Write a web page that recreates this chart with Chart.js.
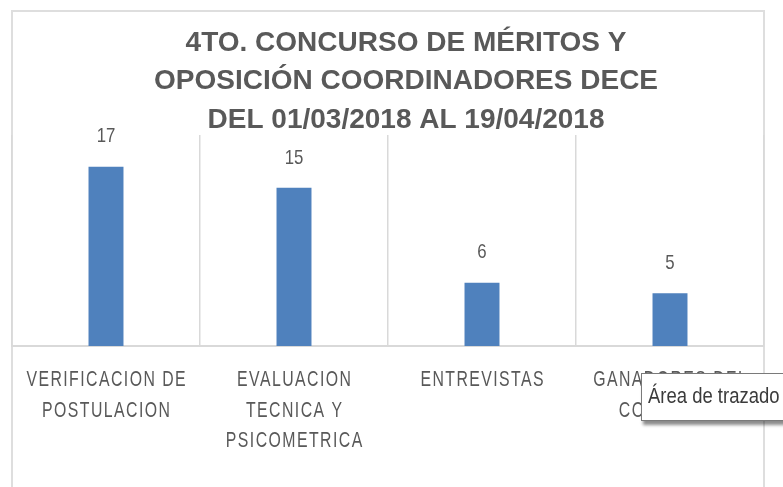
<!DOCTYPE html>
<html lang="es">
<head>
<meta charset="utf-8">
<title>4to. Concurso de méritos y oposición coordinadores DECE</title>
<script src="https://cdn.jsdelivr.net/npm/chart.js@4.4.1/dist/chart.umd.min.js"></script>
<style>
    html, body { margin: 0; padding: 0; background: #fff; }
    #wrap { position: relative; width: 783px; height: 487px; overflow: hidden; }
    #tip {
        position: absolute; left: 641px; top: 373px; width: 170px; height: 48px;
        box-sizing: border-box; border: 1px solid #7a7a7a; background: #fff;
        box-shadow: 2px 4px 3px rgba(0, 0, 0, 0.45);
        font: 22px "Liberation Sans", Arial, sans-serif; color: #3b3b3b;
        line-height: 44px; padding-left: 6px; white-space: nowrap;
    }
    #tip span { display: inline-block; transform: scaleX(0.84); transform-origin: 0 50%; }
</style>
</head>
<body>
<div id="wrap">
    <canvas id="chart"></canvas>
    <div id="tip"><span>Área de trazado</span></div>
</div>
<script>
// values
const titleLines = ["4TO. CONCURSO DE MÉRITOS Y", "OPOSICIÓN COORDINADORES DECE", "DEL 01/03/2018 AL 19/04/2018"];
const categories = [
    ["VERIFICACION DE", "POSTULACION"],
    ["EVALUACION", "TECNICA Y", "PSICOMETRICA"],
    ["ENTREVISTAS"],
    ["GANADORES DEL", "CONCURSO"],
];
const counts = [17, 15, 6, 5];
const yMin = 0;
const yMax = 20;

const baseFont = '"Liberation Sans", Arial, sans-serif';
const textGray = "#595959";
const lineGray = "#d9d9d9";

// draw text squeezed sideways, centred on x (no narrow face is installed here)
function narrowText(ctx, text, x, y, squeeze, spacing) {
    ctx.save();
    ctx.translate(x, y);
    ctx.scale(squeeze, 1);
    if (spacing) {
        ctx.letterSpacing = spacing + "px";
        ctx.translate(spacing / 2, 0); // trailing gap would push the text left
    }
    ctx.fillText(text, 0, 0);
    ctx.restore();
}

// light frame round the whole chart, like the office chart box
const chartFrame = {
    id: "chartFrame",
    beforeDraw(chart) {
        const ctx = chart.ctx;
        ctx.save();
        ctx.strokeStyle = "#dedede";
        ctx.lineWidth = 2;
        ctx.strokeRect(12, 11, chart.chartArea.right - 12, chart.height);
        ctx.restore();
    },
};

// the title sits a bit right of the plot centre in the picture
const titleShift = {
    id: "titleShift",
    afterLayout(chart) {
        if (chart.titleBlock) {
            chart.titleBlock.left += 18;
            chart.titleBlock.right += 18;
        }
    },
};

// value above each bar and the category names under the axis
const barTexts = {
    id: "barTexts",
    afterDatasetsDraw(chart) {
        const ctx = chart.ctx;
        const meta = chart.getDatasetMeta(0);
        ctx.save();
        ctx.font = "21px " + baseFont;
        ctx.fillStyle = textGray;
        ctx.textAlign = "center";
        ctx.textBaseline = "middle";
        meta.data.forEach((bar, i) => {
            narrowText(ctx, String(counts[i]), bar.x, bar.y - 30, 0.8, 0);
        });
        ctx.restore();
    },
    afterDraw(chart) {
        const ctx = chart.ctx;
        const xScale = chart.scales.x;
        ctx.save();
        ctx.font = "22px " + baseFont;
        ctx.fillStyle = textGray;
        ctx.textAlign = "center";
        ctx.textBaseline = "middle";
        categories.forEach((lines, i) => {
            const x = xScale.getPixelForValue(i);
            lines.forEach((line, k) => {
                narrowText(ctx, line, x, xScale.top + 34 + k * 30.5, 0.72, 2);
            });
        });
        ctx.restore();
    },
};

const chart = new Chart(document.getElementById("chart"), {
    type: "bar",
    data: {
        labels: categories.map((lines) => lines.join(" ")),
        datasets: [{
            data: counts,
            backgroundColor: "#4f81bd",
            barPercentage: 0.186,
            categoryPercentage: 1.0,
        }],
    },
    options: {
        responsive: true,
        maintainAspectRatio: false,
        animation: false,
        devicePixelRatio: 1,
        layout: { padding: { left: 12, right: 19, top: 0, bottom: 0 } },
        plugins: {
            legend: { display: false },
            tooltip: { enabled: false },
            title: {
                display: true,
                text: titleLines,
                color: textGray,
                font: { family: baseFont, size: 28, weight: "bold", lineHeight: 1.375 },
                padding: { top: 24, bottom: -4.5 },
            },
        },
        scales: {
            x: {
                grid: { offset: true, color: lineGray, lineWidth: 1.5, drawTicks: false },
                border: { color: lineGray, width: 2 },
                ticks: { display: false },
                afterFit(scale) {
                    scale.height = 141;
                },
            },
            y: { display: false, min: yMin, max: yMax },
        },
    },
    plugins: [chartFrame, titleShift, barTexts],
});
</script>
</body>
</html>
